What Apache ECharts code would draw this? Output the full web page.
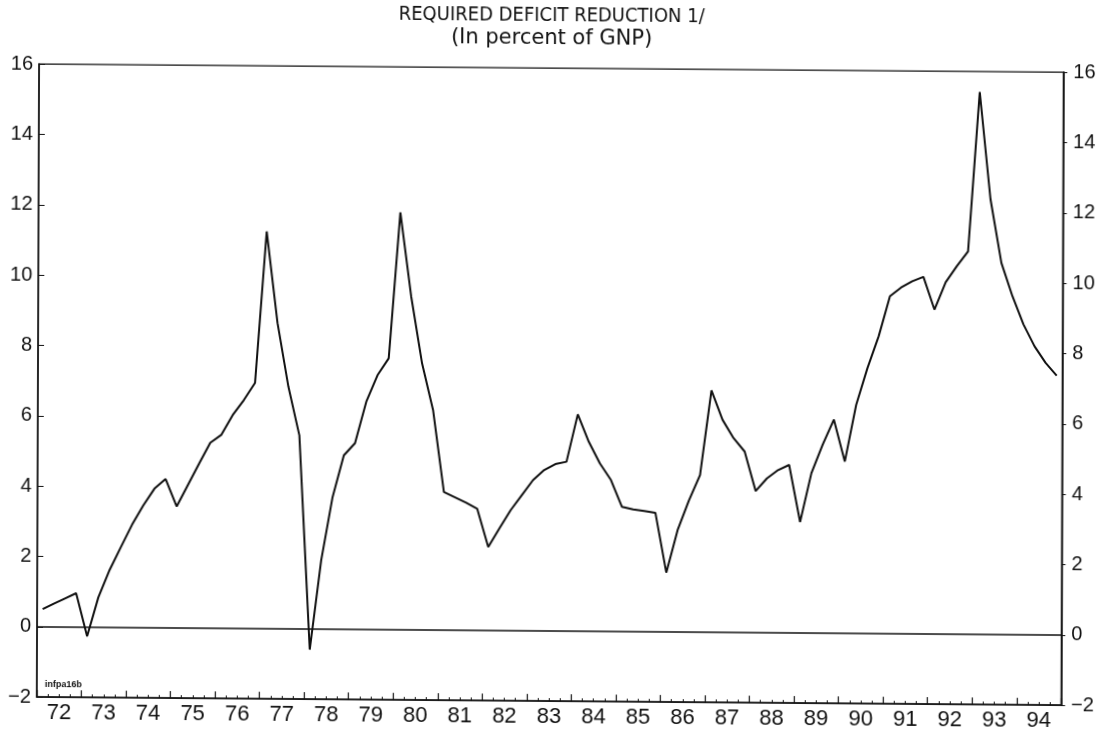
<!DOCTYPE html>
<html>
<head>
<meta charset="utf-8">
<script src="https://cdn.jsdelivr.net/npm/echarts@6/dist/echarts.min.js"></script>
<style>
  html, body { margin: 0; padding: 0; background: #ffffff; }
  #chart {
    width: 1101px; height: 733px;
    transform-origin: 550.5px 366.5px;
    transform: matrix(1, 0.008, -0.0036, 1, 0, 0);
  }
</style>
</head>
<body>
<div id="chart"></div>
<script>
// ---- data ----
const titleText = 'REQUIRED DEFICIT REDUCTION 1/';
const subtitleText = '(In percent of GNP)';
const noteText = 'infpa16b';
const startYear = 1972;
const endYear = 1995;
const yearLabels = ['72','73','74','75','76','77','78','79','80','81','82','83',
                    '84','85','86','87','88','89','90','91','92','93','94'];
// quarterly values, 1972Q1 .. 1994Q4 (percent of GNP)
const deficitReduction = [
  0.50, 0.66, 0.81, 0.96,    // 1972
  -0.26, 0.85, 1.63, 2.28,   // 1973
  2.92, 3.47, 3.95, 4.23,    // 1974
  3.45, 4.06, 4.67, 5.27,    // 1975
  5.50, 6.06, 6.49, 6.98,    // 1976
  11.29, 8.69, 6.88, 5.50,   // 1977
  -0.59, 1.95, 3.75, 4.94,   // 1978
  5.29, 6.47, 7.23, 7.71,    // 1979
  11.86, 9.47, 7.57, 6.25,   // 1980
  3.92, 3.77, 3.62, 3.45,    // 1981
  2.37, 2.90, 3.42, 3.85,    // 1982
  4.28, 4.57, 4.74, 4.81,    // 1983
  6.16, 5.38, 4.77, 4.30,    // 1984
  3.54, 3.47, 3.43, 3.38,    // 1985
  1.68, 2.89, 3.73, 4.46,    // 1986
  6.87, 6.04, 5.52, 5.14,    // 1987
  4.02, 4.38, 4.62, 4.77,    // 1988
  3.15, 4.54, 5.35, 6.07,    // 1989
  4.88, 6.49, 7.54, 8.45,    // 1990
  9.59, 9.84, 10.02, 10.15,  // 1991
  9.22, 10.00, 10.46, 10.88, // 1992
  15.42, 12.37, 10.56, 9.62, // 1993
  8.82, 8.20, 7.73, 7.37     // 1994
];
const yMin = -2, yMax = 16, yStep = 2;
const zeroLevel = 0;

// ---- chart ----
const FONT = '"Liberation Sans", Arial, sans-serif';
const TITLE_FONT = '"DejaVu Sans Condensed", "DejaVu Sans", sans-serif';
const SUB_FONT = '"DejaVu Sans", sans-serif';
const INK = '#111111';
const minus = v => String(v).replace('-', '\u2212');

const seriesData = deficitReduction.map((v, i) => [startYear + (i + 0.5) / 4, v]);

const chart = echarts.init(document.getElementById('chart'), null, { renderer: 'canvas' });
chart.setOption({
  backgroundColor: '#ffffff',
  animation: false,
  title: [
    { text: titleText, left: 'center', top: 1,
      textStyle: { fontFamily: TITLE_FONT, fontSize: 20, fontWeight: 'normal', color: INK } },
    { text: subtitleText, left: 'center', top: 23,
      textStyle: { fontFamily: SUB_FONT, fontSize: 21, fontWeight: 'normal', color: INK } }
  ],
  grid: { left: 38, right: 38.7, top: 68.1, bottom: 31.9,
          show: true, borderColor: INK, borderWidth: 1.2, backgroundColor: 'transparent' },
  graphic: [
    { type: 'text', left: 46, top: 684,
      style: { text: noteText, fontFamily: 'Liberation Sans, Arial, sans-serif',
               fontSize: 9, fontWeight: 'bold', fill: INK } }
  ],
  xAxis: [
    { type: 'value', min: startYear, max: endYear, interval: 0.25,
      axisLine: { show: true, onZero: false, lineStyle: { color: INK, width: 1.5 } },
      axisTick: { show: true, inside: true, length: 3, lineStyle: { color: INK, width: 1 } },
      axisLabel: { show: false }, splitLine: { show: false } },
    { type: 'category', data: yearLabels, boundaryGap: true, position: 'bottom',
      axisLine: { show: false, onZero: false },
      axisTick: { show: true, inside: true, length: 7, lineStyle: { color: INK, width: 1.2 } },
      axisLabel: { show: true, margin: 5, fontFamily: FONT, fontSize: 22, color: INK },
      splitLine: { show: false } }
  ],
  yAxis: [
    { type: 'value', position: 'left', min: yMin, max: yMax, interval: yStep,
      axisLine: { show: true, onZero: false, lineStyle: { color: INK, width: 1.5 } },
      axisTick: { show: true, inside: true, length: 6, lineStyle: { color: INK, width: 1 } },
      axisLabel: { margin: 6, fontFamily: FONT, fontSize: 20, color: INK, formatter: minus },
      splitLine: { show: false } },
    { type: 'value', position: 'right', min: yMin, max: yMax, interval: yStep,
      axisLine: { show: true, onZero: false, lineStyle: { color: INK, width: 1.5 } },
      axisTick: { show: true, inside: false, length: 4, lineStyle: { color: INK, width: 1 } },
      axisLabel: { margin: 10, fontFamily: FONT, fontSize: 20, color: INK, formatter: minus },
      splitLine: { show: false } }
  ],
  series: [
    { type: 'line', xAxisIndex: 0, yAxisIndex: 0, data: seriesData,
      showSymbol: false, symbol: 'none',
      lineStyle: { color: INK, width: 2 },
      markLine: { silent: true, symbol: 'none', label: { show: false },
                  lineStyle: { color: INK, width: 1.5, type: 'solid' },
                  data: [{ yAxis: zeroLevel }] } }
  ]
});
</script>
</body>
</html>
